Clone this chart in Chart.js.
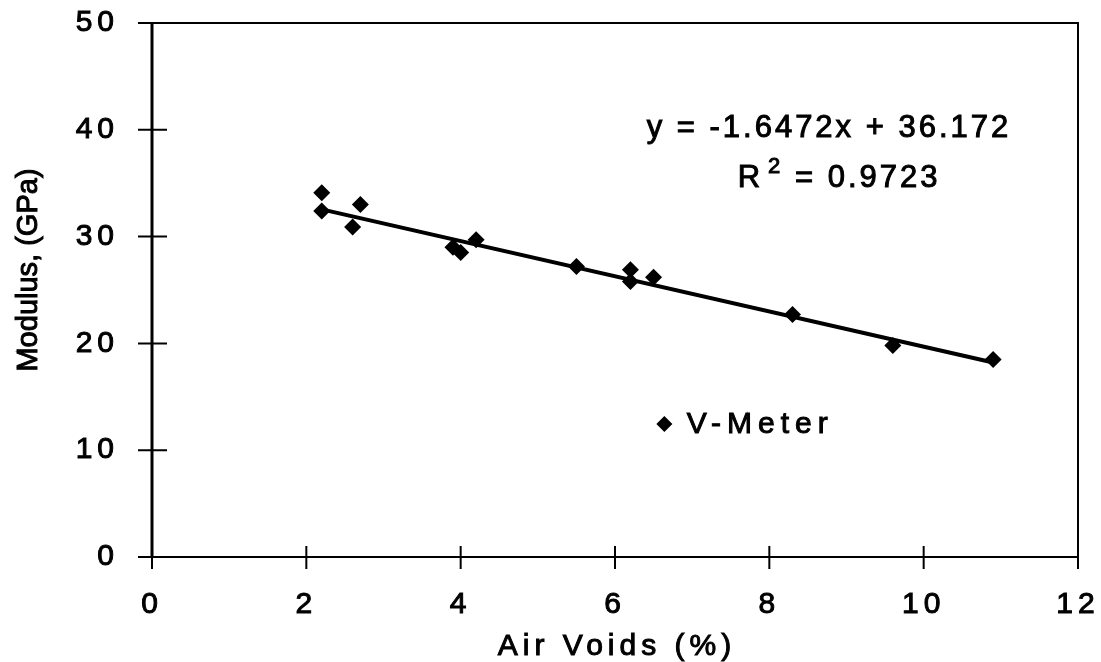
<!DOCTYPE html>
<html>
<head>
<meta charset="utf-8">
<script src="https://cdn.jsdelivr.net/npm/chart.js@4.4.0/dist/chart.umd.min.js"></script>
<style>
  html, body { margin: 0; padding: 0; background: #fff; }
  #wrap { width: 1101px; height: 662px; }
</style>
</head>
<body>
<div id="wrap"><canvas id="myChart"></canvas></div>
<script>
const airVoids = [2.2, 2.2, 2.7, 2.6, 3.9, 4.0, 4.2, 5.5, 6.2, 6.2, 6.5, 8.3, 9.6, 10.9];
const modulus = [34.1, 32.4, 33.0, 30.9, 29.0, 28.5, 29.7, 27.2, 26.9, 25.8, 26.2, 22.7, 19.8, 18.5];
const xTicks = [0, 2, 4, 6, 8, 10, 12];
const yTicks = [0, 10, 20, 30, 40, 50];
const slope = -1.6472;
const intercept = 36.172;
const rSquared = 0.9723;

const black = '#000';
const family = "'Liberation Sans', Arial, sans-serif";

// trendline from the fitted equation, over the range of the data
const xMin = Math.min(...airVoids);
const xMax = Math.max(...airVoids);
const trend = [xMin, xMax].map(v => ({ x: v, y: slope * v + intercept }));

// letter spaced text, like the scanned original
const spacing = {
  id: 'spacing',
  beforeUpdate(chart) { chart.ctx.letterSpacing = '5px'; },
  beforeDraw(chart) { chart.ctx.letterSpacing = '5px'; }
};

// box round the plot and ticks that cross the axes
const frame = {
  id: 'frame',
  beforeDatasetsDraw(chart) {
    const { ctx, chartArea: a, scales: { x, y } } = chart;
    ctx.save();
    ctx.strokeStyle = black;
    ctx.lineWidth = 2;
    ctx.strokeRect(a.left, a.top, a.right - a.left, a.bottom - a.top);
    ctx.beginPath();
    x.ticks.forEach(t => {
      const px = x.getPixelForValue(t.value);
      ctx.moveTo(px, a.bottom - 11);
      ctx.lineTo(px, a.bottom + 12);
    });
    y.ticks.forEach(t => {
      const py = y.getPixelForValue(t.value);
      ctx.moveTo(a.left - 14, py);
      ctx.lineTo(a.left + 15, py);
    });
    ctx.stroke();
    ctx.lineWidth = 3;
    ctx.beginPath();
    ctx.moveTo(a.left, a.top);
    ctx.lineTo(a.left, a.bottom);
    ctx.stroke();
    ctx.restore();
  }
};

// fill plus a thin outline, the scan makes the type look heavy
function heavyText(ctx, str, px, py) {
  ctx.fillText(str, px, py);
  ctx.strokeText(str, px, py);
}

// equation, R², legend entry and both axis titles
const notes = {
  id: 'notes',
  afterDraw(chart) {
    const { ctx, scales: { x, y } } = chart;
    ctx.save();
    ctx.fillStyle = black;
    ctx.strokeStyle = black;
    ctx.lineWidth = 1;
    ctx.textAlign = 'left';
    ctx.textBaseline = 'alphabetic';

    ctx.letterSpacing = '3px';
    ctx.font = `31px ${family}`;
    heavyText(ctx, `y = ${slope}x + ${intercept}`, x.getPixelForValue(6.41), y.getPixelForValue(39.3));

    let rx = x.getPixelForValue(7.59);
    const ry = y.getPixelForValue(34.6);
    heavyText(ctx, 'R', rx, ry);
    rx += ctx.measureText('R').width;
    ctx.font = `22px ${family}`;
    heavyText(ctx, '2', rx + 5, ry - 14);
    rx += 5 + ctx.measureText('2').width;
    ctx.font = `31px ${family}`;
    heavyText(ctx, ` = ${rSquared}`, rx, ry);

    const lx = x.getPixelForValue(6.64);
    const ly = y.getPixelForValue(12.45);
    Chart.helpers.drawPoint(ctx, { pointStyle: 'rectRot', radius: 8, rotation: 0, borderWidth: 0 }, lx, ly);
    ctx.letterSpacing = '6px';
    ctx.font = `30px ${family}`;
    heavyText(ctx, 'V-Meter', x.getPixelForValue(6.93), y.getPixelForValue(11.6));

    ctx.letterSpacing = '5px';
    ctx.textAlign = 'center';
    heavyText(ctx, 'Air Voids (%)', (x.left + x.right) / 2 + 2, x.bottom - 7);

    ctx.letterSpacing = '0px';
    ctx.font = `29px ${family}`;
    ctx.translate(37, 270);
    ctx.rotate(-Math.PI / 2);
    heavyText(ctx, 'Modulus, (GPa)', 0, 0);
    ctx.restore();
  }
};

const ctx = document.getElementById('myChart');

new Chart(ctx, {
  type: 'scatter',
  data: {
    datasets: [
      {
        label: 'V-Meter',
        data: airVoids.map((v, i) => ({ x: v, y: modulus[i] })),
        pointStyle: 'rectRot',
        pointRadius: 8.5,
        pointHoverRadius: 8.5,
        backgroundColor: black,
        borderColor: black,
        borderWidth: 0,
      },
      {
        label: 'Linear',
        data: trend,
        showLine: true,
        pointRadius: 0,
        pointHoverRadius: 0,
        borderColor: black,
        borderWidth: 4,
      }
    ]
  },
  options: {
    responsive: true,
    maintainAspectRatio: false,
    animation: false,
    layout: {
      padding: { top: 23, right: 23, left: 0, bottom: 0 }
    },
    plugins: {
      legend: { display: false },
      tooltip: { enabled: false },
    },
    scales: {
      x: {
        type: 'linear',
        min: 0,
        max: 12,
        afterBuildTicks: s => { s.ticks = xTicks.map(v => ({ value: v })); },
        afterFit: s => { s.height = 105; s.paddingLeft = 0; s.paddingRight = 0; },
        grid: { display: false, drawTicks: false },
        border: { display: false },
        ticks: {
          color: black, font: { size: 30, family }, padding: 30, maxRotation: 0, autoSkip: false,
          textStrokeColor: black, textStrokeWidth: 1
        }
      },
      y: {
        type: 'linear',
        min: 0,
        max: 50,
        afterBuildTicks: s => { s.ticks = yTicks.map(v => ({ value: v })); },
        afterFit: s => { s.width = 152; s.paddingTop = 0; s.paddingBottom = 0; },
        grid: { display: false, drawTicks: false },
        border: { display: false },
        ticks: {
          color: black, font: { size: 30, family }, padding: 33, autoSkip: false,
          textStrokeColor: black, textStrokeWidth: 1
        }
      }
    }
  },
  plugins: [spacing, frame, notes]
});
</script>
</body>
</html>
